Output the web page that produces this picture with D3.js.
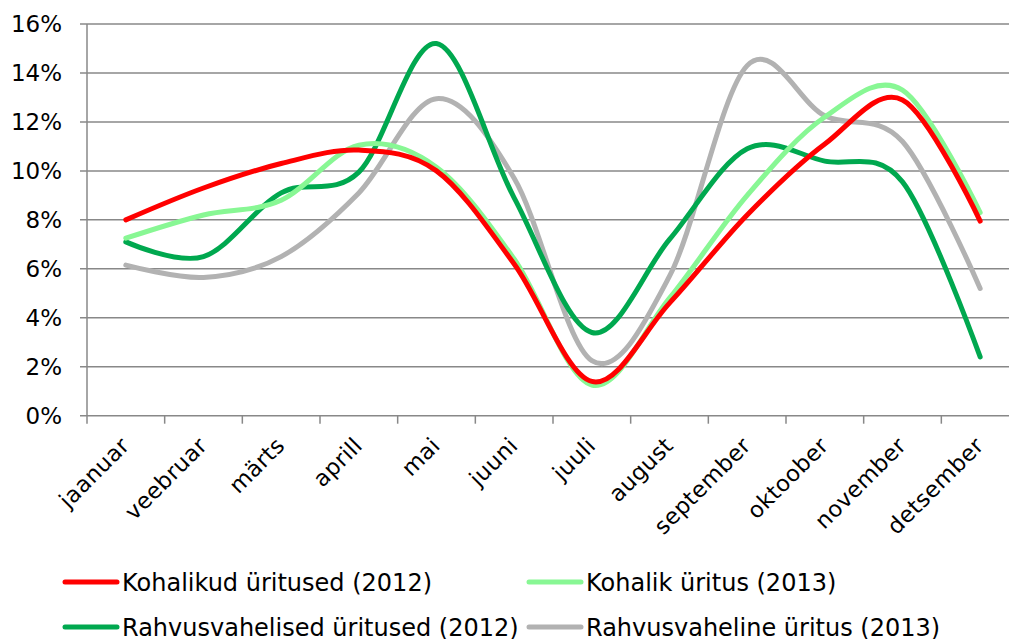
<!DOCTYPE html>
<meta charset="utf-8">
<style>
body { margin: 0; background: #fff; }
text { font-family: "DejaVu Sans", Verdana, sans-serif; fill: #000; }
.grid line { stroke: #888; stroke-width: 1.5px; }
.series { fill: none; stroke-width: 5px; stroke-linecap: round; }
</style>
<svg width="1009" height="639"></svg>
<script src="https://d3js.org/d3.v7.min.js"></script>
<script>

var months = ["jaanuar", "veebruar", "märts", "aprill", "mai", "juuni", "juuli",
              "august", "september", "oktoober", "november", "detsember"];

var yTicks = [0, 2, 4, 6, 8, 10, 12, 14, 16];

var seriesNames = ["Kohalikud üritused (2012)", "Kohalik üritus (2013)",
                   "Rahvusvahelised üritused (2012)", "Rahvusvaheline üritus (2013)"];
var seriesColors = ["#ff0000", "#88f794", "#00a84f", "#b2b2b2"];

var kohalik2012 = [8.0, 9.3, 10.3, 10.85, 10.0, 6.2, 1.4, 4.6, 8.2, 11.1, 12.9, 7.95];
var kohalik2013 = [7.25, 8.2, 8.8, 11.05, 10.15, 6.4, 1.25, 4.8, 9.0, 12.2, 13.3, 8.3];
var rahvus2012  = [7.1, 6.5, 9.1, 9.95, 15.2, 8.9, 3.4, 7.2, 10.9, 10.4, 9.55, 2.4];
var rahvus2013  = [6.15, 5.65, 6.5, 9.1, 12.95, 9.7, 2.25, 5.7, 14.3, 12.25, 11.2, 5.2];

// drawing order: gray, dark green, light green, red on top
var series = [
  { name: seriesNames[3], color: seriesColors[3], values: rahvus2013 },
  { name: seriesNames[2], color: seriesColors[2], values: rahvus2012 },
  { name: seriesNames[1], color: seriesColors[1], values: kohalik2013 },
  { name: seriesNames[0], color: seriesColors[0], values: kohalik2012 }
];

var svg = d3.select("svg");

var x = d3.scaleBand().domain(months).range([87, 1019]);
var y = d3.scaleLinear().domain([0, 16]).range([415.7, 24]);

// gridlines
var grid = svg.append("g").attr("class", "grid");
grid.selectAll("line").data(yTicks).enter().append("line")
    .attr("x1", 80).attr("x2", 1009)
    .attr("y1", function(d) { return y(d); })
    .attr("y2", function(d) { return y(d); });

// y axis line
grid.append("line")
    .attr("x1", 87).attr("x2", 87)
    .attr("y1", y(16)).attr("y2", y(0));

// x tick marks at band boundaries
grid.selectAll("line.xt").data(months).enter().append("line")
    .attr("class", "xt")
    .attr("x1", function(d) { return x(d); })
    .attr("x2", function(d) { return x(d); })
    .attr("y1", y(0)).attr("y2", y(0) + 8);

// y labels
svg.append("g").selectAll("text").data(yTicks).enter().append("text")
    .attr("x", 62)
    .attr("y", function(d) { return y(d); })
    .attr("dy", "0.36em")
    .attr("text-anchor", "end")
    .style("font-size", "23px")
    .text(function(d) { return d + "%"; });

// x labels rotated
svg.append("g").selectAll("text").data(months).enter().append("text")
    .attr("text-anchor", "end")
    .style("font-size", "22.5px")
    .style("letter-spacing", "0.4px")
    .attr("transform", function(d) {
      var cx = x(d) + x.bandwidth() / 2 + 5;
      return "translate(" + cx + "," + 447 + ") rotate(-45)";
    })
    .text(function(d) { return d; });

var line = d3.line()
    .x(function(d, i) { return x(months[i]) + x.bandwidth() / 2; })
    .y(function(d) { return y(d); })
    .curve(d3.curveCardinal.tension(0));

svg.append("g").selectAll("path").data(series).enter().append("path")
    .attr("class", "series")
    .attr("stroke", function(d) { return d.color; })
    .attr("d", function(d) { return line(d.values); });

// legend
var legendPos = [[63, 582], [527, 582], [63, 627], [527, 627]];
var legend = svg.append("g").selectAll("g").data(seriesNames).enter().append("g")
    .attr("transform", function(d, i) { return "translate(" + legendPos[i][0] + "," + legendPos[i][1] + ")"; });
legend.append("line")
    .attr("x1", 2).attr("x2", 54).attr("y1", 0).attr("y2", 0)
    .attr("stroke", function(d, i) { return seriesColors[i]; })
    .attr("stroke-width", 5).attr("stroke-linecap", "round");
legend.append("text")
    .attr("x", 59).attr("dy", "0.36em")
    .style("font-size", "24px")
    .text(function(d) { return d; });

</script>
